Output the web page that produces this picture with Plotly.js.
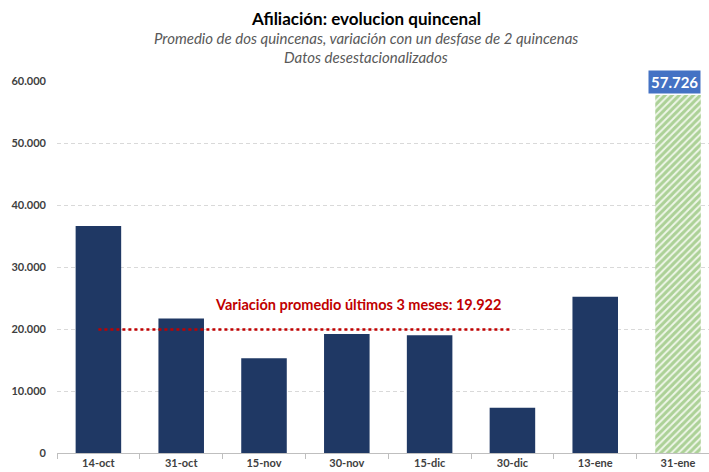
<!DOCTYPE html>
<html>
<head>
<meta charset="utf-8">
<script src="https://cdn.plot.ly/plotly-3.0.1.min.js"></script>
<style>html,body{margin:0;padding:0;background:#fff;}#chart{width:709px;height:472px;}</style>
</head>
<body>
<div id="chart"></div>
<script>
// Data
const categories = ['14-oct', '31-oct', '15-nov', '30-nov', '15-dic', '30-dic', '13-ene', '31-ene'];
const observed = [36600, 21700, 15300, 19200, 19000, 7300, 25200, null];
const projected = [null, null, null, null, null, null, null, 57726];
const avgValue = 19922;
const avgFrom = '14-oct';
const avgTo = '30-dic';
const avgLabel = 'Variación promedio últimos 3 meses: 19.922';
const projLabel = '57.726';
const titleText = 'Afiliación: evolucion quincenal';
const subtitle1 = 'Promedio de dos quincenas, variación con un desfase de 2 quincenas';
const subtitle2 = 'Datos desestacionalizados';
const yTicks = [0, 10000, 20000, 30000, 40000, 50000, 60000];

const FONT = 'Lato, "Open Sans", sans-serif';

const traces = [
  {
    type: 'bar', x: categories, y: observed, width: 0.55,
    marker: {color: '#1f3864', line: {width: 0}},
    hoverinfo: 'skip', showlegend: false
  },
  {
    type: 'bar', x: categories, y: projected, width: 0.55,
    marker: {color: '#eef6e8', line: {width: 0},
      pattern: {shape: '/', fgcolor: '#6aab45', bgcolor: '#eef6e8', size: 5, solidity: 0.6, fillmode: 'overlay'}},
    hoverinfo: 'skip', showlegend: false
  },
  {
    type: 'scatter', mode: 'lines', x: [avgFrom, avgTo], y: [avgValue, avgValue],
    line: {color: '#c00000', width: 2.5, dash: 'dot'},
    hoverinfo: 'skip', showlegend: false
  }
];

const layout = {
  width: 709, height: 472,
  margin: {l: 57, r: 0, t: 81, b: 19},
  paper_bgcolor: '#ffffff', plot_bgcolor: '#ffffff',
  separators: ',.',
  barmode: 'overlay',
  font: {family: FONT, color: '#595959'},
  xaxis: {
    type: 'category', range: [-0.5, 7.374],
    showgrid: false, zeroline: false,
    showline: true, linecolor: '#bfbfbf', linewidth: 1,
    ticks: 'outside', tickson: 'boundaries', ticklen: 5, tickcolor: '#bfbfbf',
    tickfont: {family: FONT, size: 11, color: '#404040', weight: 'bold'},
    fixedrange: true
  },
  yaxis: {
    range: [0, 60000], tickvals: yTicks, tickformat: ',d',
    showgrid: true, gridcolor: '#d9d9d9', griddash: '4px,3px', gridwidth: 1,
    zeroline: false, showline: false, ticks: '',
    ticklabelstandoff: 10,
    tickfont: {family: FONT, size: 11, color: '#404040', weight: 'bold'},
    fixedrange: true
  },
  annotations: [
    {xref: 'paper', yref: 'paper', x: 0.474, y: 1.169, text: '<b>' + titleText + '</b>', showarrow: false,
     font: {family: FONT, size: 17, color: '#000000'}, xanchor: 'center', yanchor: 'middle'},
    {xref: 'paper', yref: 'paper', x: 0.474, y: 1.1156, text: '<i>' + subtitle1 + '</i>', showarrow: false,
     font: {family: FONT, size: 15, color: '#595959'}, xanchor: 'center', yanchor: 'middle'},
    {xref: 'paper', yref: 'paper', x: 0.474, y: 1.064, text: '<i>' + subtitle2 + '</i>', showarrow: false,
     font: {family: FONT, size: 15, color: '#595959'}, xanchor: 'center', yanchor: 'middle'},
    {xref: 'x', yref: 'y', x: 3.13, y: 23900, text: '<b>' + avgLabel + '</b>', showarrow: false,
     font: {family: FONT, size: 14.5, color: '#c00000'}, xanchor: 'center', yanchor: 'middle'},
    {xref: 'x', yref: 'y', x: categories[7], y: projected[7], text: '<b>' + projLabel + '</b>', showarrow: false,
     font: {family: FONT, size: 15, color: '#ffffff'}, bgcolor: '#4472c4', borderpad: 2,
     xanchor: 'right', xshift: 23, yanchor: 'bottom', yshift: 1}
  ]
};

Plotly.newPlot('chart', traces, layout, {displayModeBar: false, staticPlot: true});
</script>
</body>
</html>
